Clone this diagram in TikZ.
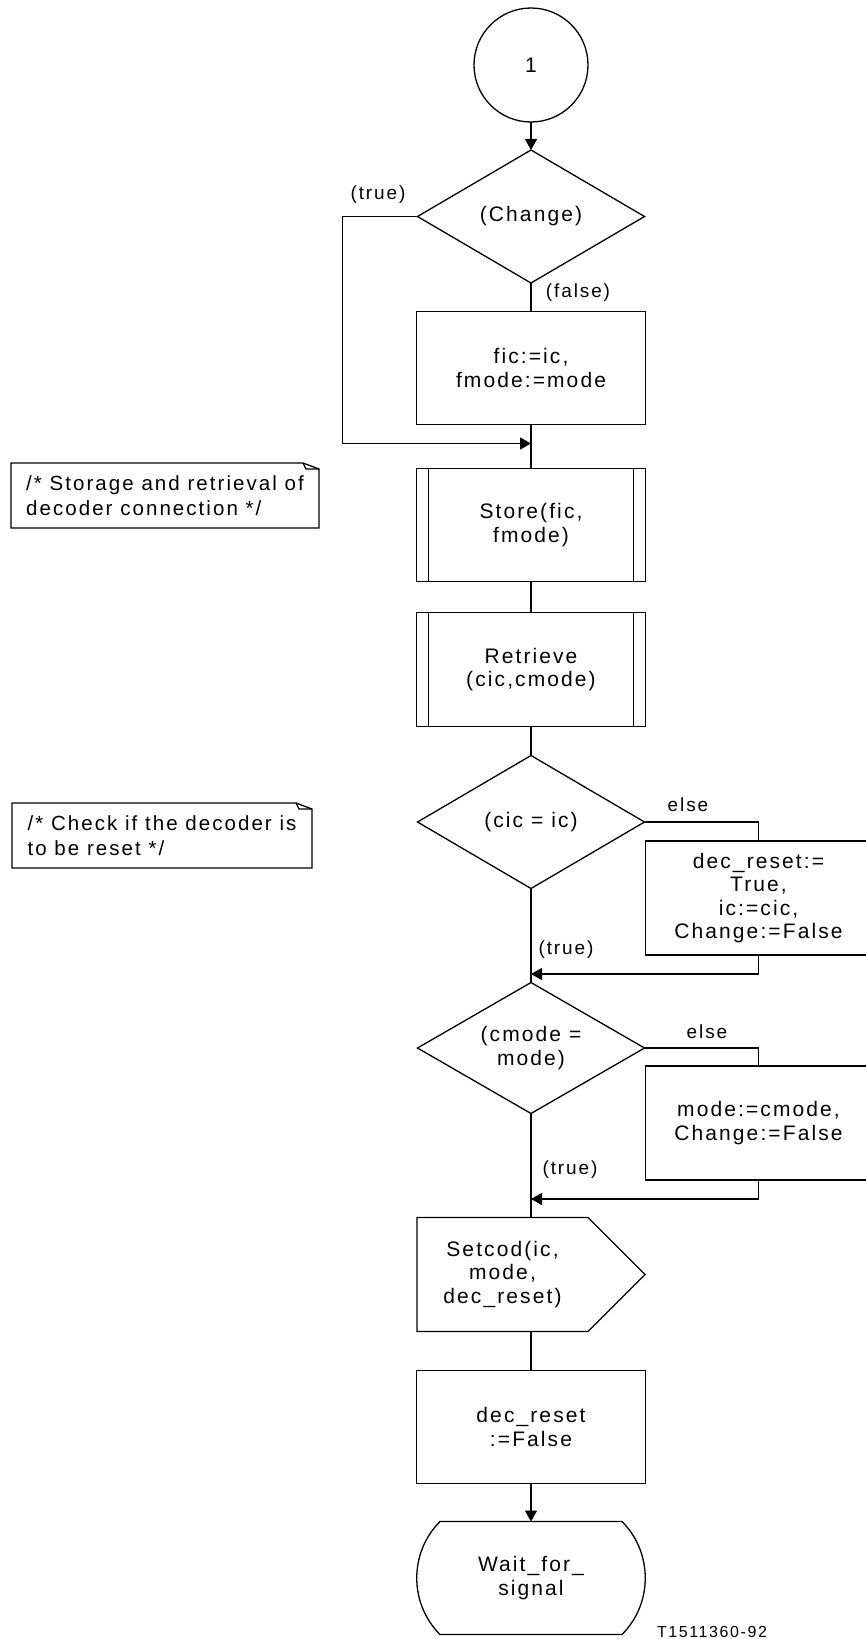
\documentclass[tikz,border=0pt]{standalone}
\usepackage{fontspec}
\setmainfont{Liberation Sans}[LetterSpace=10]
\usetikzlibrary{shapes,arrows.meta,positioning,calc}

\begin{document}
\begin{tikzpicture}[
    x=1pt, y=-1pt,
    line width=1.3pt,
    every node/.style={font=\fontsize{21}{23.5}\selectfont, outer sep=0pt},
    box/.style={rectangle, draw, minimum width=229pt, minimum height=113pt, align=center},
    sidebox/.style={box, minimum width=226pt, minimum height=114pt},
    procbox/.style={box, path picture={
        \draw ([xshift=12pt]path picture bounding box.north west) -- ([xshift=12pt]path picture bounding box.south west);
        \draw ([xshift=-12pt]path picture bounding box.north east) -- ([xshift=-12pt]path picture bounding box.south east);}},
    decision/.style={diamond, draw, minimum width=227pt, minimum height=133pt, aspect=1.7, inner sep=0pt, align=center},
    connector/.style={circle, draw, minimum size=114pt},
    outline/.style={rectangle, minimum height=114pt, align=center},
    note/.style={rectangle, minimum height=65pt, align=left, font=\fontsize{20.5}{25}\selectfont},
    lbl/.style={inner sep=0pt, font=\fontsize{19}{22}\selectfont},
    arrow/.style={-{Triangle[length=11pt,width=12pt]}}
]
\useasboundingbox (0,0) rectangle (866,1639);

% Main flow
\node[connector] (conn) at (531,65) {1};
\node[decision, below=28pt of conn] (chg) {(Change)};
\node[box, below=28.5pt of chg] (fic) {fic:=ic,\\fmode:=mode};
\node[procbox, below=44pt of fic] (store) {Store(fic,\\fmode)};
\node[procbox, below=31pt of store, minimum height=114pt] (retr) {Retrieve\\(cic,cmode)};
\node[decision, below=29pt of retr] (cic) {(cic = ic)};
\node[decision, below=94pt of cic, minimum height=131pt] (cmode) {(cmode =\\mode)};
\node[outline, minimum width=171pt, below=104pt of cmode, xshift=-28.5pt] (setcod) {Setcod(ic,\\mode,\\dec\_reset)};
\node[box, below=39pt of setcod, xshift=28.5pt] (decf) {dec\_reset\\:=False};
\node[outline, minimum width=182pt, minimum height=113pt, below=38pt of decf] (wait) {Wait\_for\_\\signal};

% Else branches
\node[sidebox, below right=19pt and 1pt of cic.east] (dec) {dec\_reset:=\\True,\\ic:=cic,\\Change:=False};
\node[sidebox, below right=18pt and 1pt of cmode.east] (mode) {mode:=cmode,\\Change:=False};

% Comments
\node[note, minimum width=308pt] (note1) at (165,495.5) {/* Storage and retrieval of\\decoder connection */};
\node[note, minimum width=300pt] (note2) at (162,835.5) {/* Check if the decoder is\\to be reset */};

% Outlines
\draw (setcod.north west) -- (setcod.north east) -- ($(setcod.east)+(57,0)$) -- (setcod.south east) -- (setcod.south west) -- cycle;
\draw (wait.north west) -- (wait.north east) .. controls +(31,31) and +(31,-31) .. (wait.south east)
    -- (wait.south west) .. controls +(-31,-31) and +(-31,31) .. (wait.north west) -- cycle;
\foreach \n in {note1,note2} {
    \draw (\n.south west) -- (\n.north west) -- ([xshift=-16pt]\n.north east) -- ([yshift=-6pt]\n.north east) -- (\n.south east) -- cycle;
    \draw ([xshift=-16pt]\n.north east) -- ([xshift=-13pt,yshift=-6pt]\n.north east) -- ([yshift=-6pt]\n.north east);
}

% Arrows
\draw[arrow] (conn) -- (chg);
\draw (chg) -- (fic);
\draw (fic) -- (store);
\draw[arrow] (chg.west) -- ++(-75,0) |- ($(fic.south)+(0,19)$);
\draw (store) -- (retr);
\draw (retr) -- (cic);
\draw (cic) -- (cmode);
\draw (cic.east) -| (dec.north);
\draw[arrow] (dec.south) |- ($(dec.south -| cic.south)+(0,19)$);
\draw (cmode.east) -| (mode.north);
\draw[arrow] (mode.south) |- ($(mode.south -| cmode.south)+(0,19)$);
\draw (cmode) -- (cmode |- setcod.north);
\draw (decf |- setcod.south) -- (decf);
\draw[arrow] (decf) -- (wait);

% Labels
\node[lbl] (truechg) at (378,195) {(true)};
\node[lbl] (falsechg) at (578,293) {(false)};
\node[lbl] (elsecic) at (688,805) {else};
\node[lbl] (truecic) at (566,950) {(true)};
\node[lbl] (elsecmode) at (707,1032) {else};
\node[lbl] (truecmode) at (570,1170) {(true)};
\node[lbl, font=\fontsize{16}{19}\selectfont] (figid) at (712,1632) {T1511360-92};

\end{tikzpicture}
\end{document}
